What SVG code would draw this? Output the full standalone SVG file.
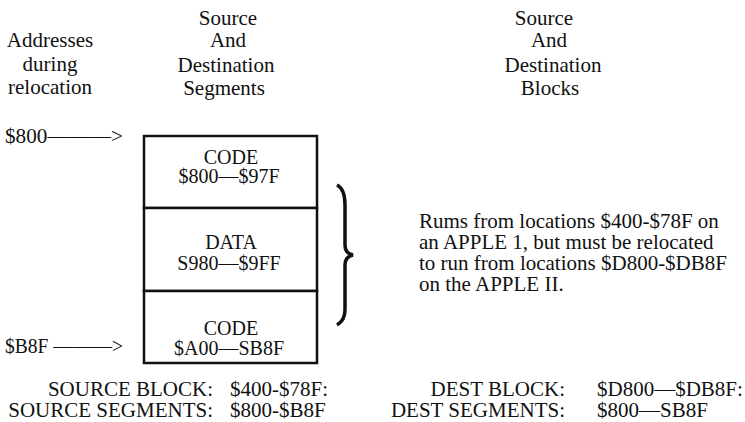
<svg xmlns="http://www.w3.org/2000/svg" width="745" height="422" viewBox="0 0 745 422">
<style>
text{font-family:"Liberation Serif","Times New Roman",serif;font-size:21px;fill:#111}
.m{text-anchor:middle}
.e{text-anchor:end}
.b{font-size:20px}
.box{fill:#fff;stroke:#111;stroke-width:2.5}
</style>
<rect width="745" height="422" fill="#fff"/>
<g id="header-addresses">
<text class="m" x="50" y="47">Addresses</text>
<text class="m" x="50" y="71">during</text>
<text class="m" x="50" y="94">relocation</text>
</g>
<g id="header-segments">
<text class="m" x="228" y="25">Source</text>
<text class="m" x="228" y="47">And</text>
<text class="m" x="226" y="72">Destination</text>
<text class="m" x="224" y="95">Segments</text>
</g>
<g id="header-blocks">
<text class="m" x="544" y="25">Source</text>
<text class="m" x="549" y="47">And</text>
<text class="m" x="553" y="72">Destination</text>
<text class="m" x="550" y="95">Blocks</text>
</g>
<g id="seg-code1">
<rect class="box" x="144" y="136" width="173" height="72"/>
<text class="m b" x="231" y="164">CODE</text>
<text class="m b" x="229" y="183">$800—$97F</text>
</g>
<g id="seg-data">
<rect class="box" x="144" y="208" width="173" height="83"/>
<text class="m b" x="231" y="249">DATA</text>
<text class="m b" x="229" y="270">S980—$9FF</text>
</g>
<g id="seg-code2">
<rect class="box" x="144" y="291" width="173" height="72"/>
<text class="m b" x="231" y="335">CODE</text>
<text class="m b" x="229" y="355">$A00—SB8F</text>
</g>
<g id="connectors">
<text x="5" y="143" textLength="118" lengthAdjust="spacingAndGlyphs">$800———&gt;</text>
<text x="5" y="353" textLength="118" lengthAdjust="spacingAndGlyphs">$B8F ———&gt;</text>
<path d="M337,185 C343,188 345,195 345,205 L345,245 C345,251 348,254 353,255 C348,256 345,259 345,265 L345,310 C345,318 342,322 337,325" fill="none" stroke="#111" stroke-width="3.5"/>
</g>
<g id="note">
<text x="419" y="228">Rums from locations $400-$78F on</text>
<text x="419" y="249">an APPLE 1, but must be relocated</text>
<text x="419" y="270">to run from locations $D800-$DB8F</text>
<text x="419" y="291">on the APPLE II.</text>
</g>
<g id="summary">
<text class="e" x="213" y="396">SOURCE BLOCK:</text>
<text x="230" y="396">$400-$78F:</text>
<text class="e" x="213" y="417">SOURCE SEGMENTS:</text>
<text x="230" y="417">$800-$B8F</text>
<text class="e" x="565" y="396">DEST BLOCK:</text>
<text x="597" y="396">$D800—$DB8F:</text>
<text class="e" x="565" y="417">DEST SEGMENTS:</text>
<text x="597" y="417">$800—SB8F</text>
</g>
</svg>
